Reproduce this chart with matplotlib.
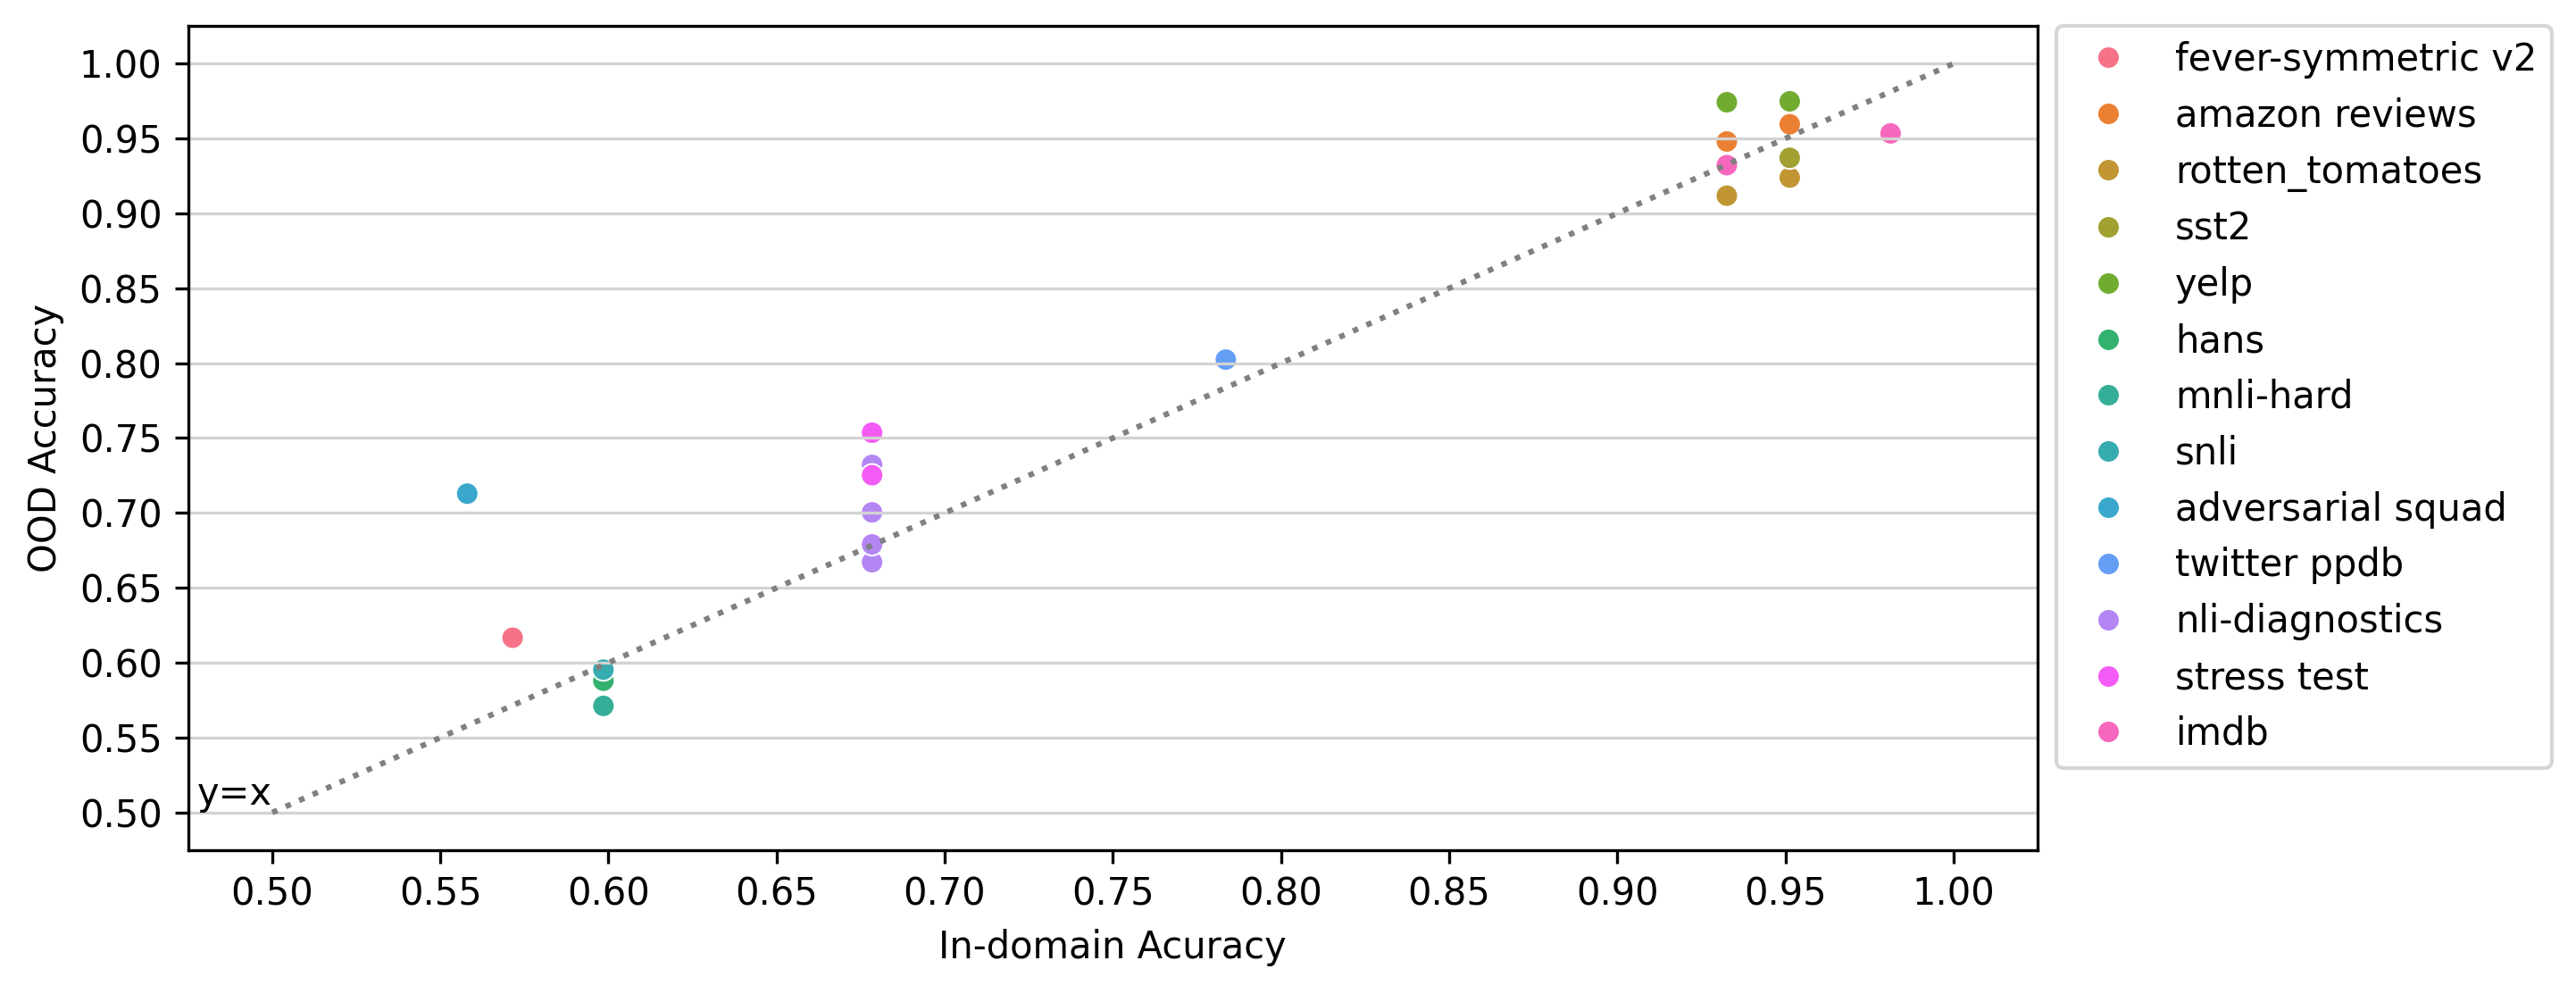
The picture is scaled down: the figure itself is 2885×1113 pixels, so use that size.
import pandas as pd
import matplotlib as mpl
import matplotlib.pyplot as plt
from matplotlib.ticker import MultipleLocator, FormatStrFormatter
import seaborn as sns

# Datasets (hue order) and their in-domain / OOD accuracies
datasets = [
    'fever-symmetric v2', 'amazon reviews', 'rotten_tomatoes', 'sst2', 'yelp',
    'hans', 'mnli-hard', 'snli', 'adversarial squad', 'twitter ppdb',
    'nli-diagnostics', 'stress test', 'imdb',
]

fever_x = [0.5715]
fever_y = [0.6167]
amazon_x = [0.9326, 0.9513]
amazon_y = [0.9480, 0.9595]
rotten_x = [0.9326, 0.9513]
rotten_y = [0.9118, 0.9239]
sst2_x = [0.9513]
sst2_y = [0.9371]
yelp_x = [0.9326, 0.9513]
yelp_y = [0.9742, 0.9748]
hans_x = [0.5985]
hans_y = [0.5880]
mnli_hard_x = [0.5985]
mnli_hard_y = [0.5712]
snli_x = [0.5985]
snli_y = [0.5954]
adv_squad_x = [0.5580]
adv_squad_y = [0.7129]
twitter_x = [0.7836]
twitter_y = [0.8024]
nli_diag_x = [0.6784, 0.6784, 0.6784, 0.6784]
nli_diag_y = [0.7321, 0.7004, 0.6671, 0.6790]
stress_x = [0.6784, 0.6784]
stress_y = [0.7536, 0.7252]
imdb_x = [0.9326, 0.9813]
imdb_y = [0.9322, 0.9534]

xs = [fever_x, amazon_x, rotten_x, sst2_x, yelp_x, hans_x, mnli_hard_x,
      snli_x, adv_squad_x, twitter_x, nli_diag_x, stress_x, imdb_x]
ys = [fever_y, amazon_y, rotten_y, sst2_y, yelp_y, hans_y, mnli_hard_y,
      snli_y, adv_squad_y, twitter_y, nli_diag_y, stress_y, imdb_y]

rows = []
for name, x, y in zip(datasets, xs, ys):
    for xi, yi in zip(x, y):
        rows.append({'in_domain': xi, 'ood': yi, 'dataset': name})
df = pd.DataFrame(rows)

fig, ax = plt.subplots(figsize=(9.62, 3.71), dpi=300)
fig.subplots_adjust(left=0.073, right=0.7907, bottom=0.1449, top=0.9737)

sns.scatterplot(data=df, x='in_domain', y='ood', hue='dataset',
                hue_order=datasets, palette=sns.color_palette('husl', len(datasets)),
                ax=ax)

# y = x reference
ax.plot([0.5, 1.0], [0.5, 1.0], linestyle=':', color='gray')
ax.text(0.5, 0.5, 'y=x', ha='right', va='bottom')

ax.xaxis.set_major_locator(MultipleLocator(0.05))
ax.yaxis.set_major_locator(MultipleLocator(0.05))
ax.xaxis.set_major_formatter(FormatStrFormatter('%.2f'))
ax.yaxis.set_major_formatter(FormatStrFormatter('%.2f'))

ax.grid(axis='y', color='lightgray')
ax.set_xlabel('In-domain Acuracy')
ax.set_ylabel('OOD Accuracy')

sns.move_legend(ax, 'upper left', bbox_to_anchor=(1.01, 1.0),
                borderaxespad=0, title=None)

plt.savefig('out.png', dpi=300)
